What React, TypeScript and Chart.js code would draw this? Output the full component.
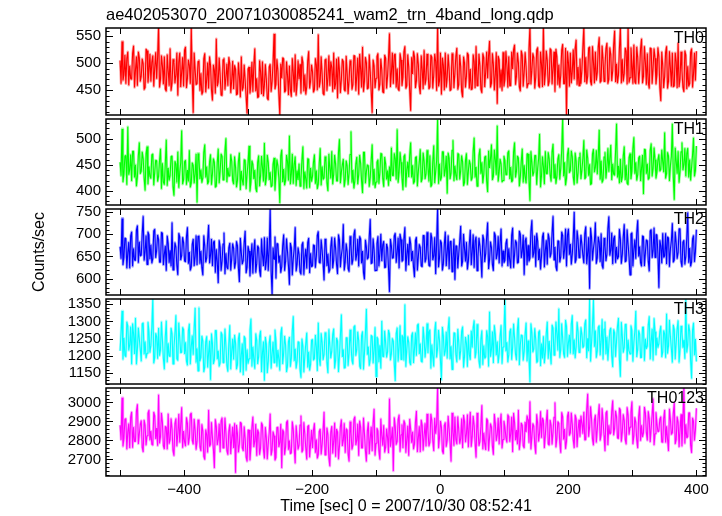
import React, { useEffect, useRef } from "react";
import { Chart, registerables } from "chart.js";
Chart.register(...registerables);

const TITLE = "ae402053070_20071030085241_wam2_trn_4band_long.qdp";
const X_LABEL = "Time [sec] 0 = 2007/10/30 08:52:41";
const Y_LABEL = "Counts/sec";

const T_START = -500;
const T_END = 400;
const X_MIN = -522;
const X_MAX = 415;
const X_TICK_LABELS = [-400, -200, 0, 200, 400];
const X_FRAME_TICKS = [-500, -400, -300, -200, -100, 0, 100, 200, 300, 400];

const TH0 = [
  505,462, 540,468, 478,515, 462,509, 521,459, 495,471, 470,518, 532,455, 488,512, 458,521, 510,466, 476,508, 499,451, 455,526, 523,464, 484,517, 466,502, 514,457, 492,520, 471,511,
  568,455, 470,514, 495,461, 512,452, 448,516, 486,458, 527,449, 463,507, 501,463, 478,519, 440,502, 519,456, 484,511, 457,524, 530,454, 472,506, 496,462, 566,470, 408,519, 488,460,
  462,503, 505,449, 481,442, 447,508, 518,446, 470,501, 453,512, 496,450, 431,497, 487,444, 545,457, 465,510, 478,441, 440,506, 509,451, 474,499, 458,511, 499,445, 468,504, 452,496,
  489,441, 443,501, 476,437, 512,449, 455,497, 468,438, 407,489, 493,444, 461,502, 447,496, 527,448, 472,436, 438,505, 484,443, 503,439, 459,498, 470,435, 432,493, 498,447, 466,500,
  554,452, 461,507, 486,443, 404,499, 472,510, 508,446, 449,503, 477,441, 495,451, 438,509, 483,447, 516,440, 462,505, 470,498, 444,512, 501,448, 479,442, 456,504, 522,453, 467,497,
  484,446, 451,509, 497,450, 553,455, 466,512, 479,444, 441,506, 508,449, 473,514, 458,503, 492,447, 519,452, 462,508, 435,511, 487,445, 470,507, 503,451, 448,513, 481,443, 469,505,
  496,451, 460,514, 513,449, 478,510, 442,517, 489,455, 530,447, 467,511, 501,452, 454,516, 484,449, 408,506, 495,454, 472,512, 518,450, 461,508, 487,447, 445,515, 509,453, 476,510,
  555,456, 483,519, 462,515, 517,455, 490,452, 449,518, 506,458, 474,521, 531,453, 458,516, 493,450, 412,511, 480,522, 512,454, 467,518, 498,457, 443,514, 488,452, 524,460, 471,517,
  490,452, 456,515, 511,453, 478,517, 503,449, 570,457, 467,519, 442,510, 496,450, 519,455, 473,516, 488,449, 451,518, 507,454, 482,513, 528,451, 460,515, 494,448, 437,512, 500,455,
  476,519, 515,453, 489,451, 452,516, 503,454, 531,458, 468,517, 495,452, 445,518, 510,456, 484,521, 472,514, 541,455, 463,518, 498,450, 479,520, 425,513, 506,455, 488,449, 520,457,
  470,522, 497,455, 512,458, 458,521, 489,525, 534,460, 476,519, 501,456, 448,523, 515,457, 483,520, 493,454, 462,526, 568,461, 487,518, 510,453, 474,524, 529,458, 455,521, 498,456,
  569,459, 481,523, 505,458, 466,527, 524,461, 490,521, 447,526, 512,460, 497,455, 478,524, 535,462, 462,528, 402,522, 501,457, 519,463, 484,525, 470,527, 543,460, 493,458, 508,462,
  488,529, 567,465, 511,462, 476,528, 530,466, 459,531, 502,463, 521,468, 483,530, 548,464, 467,532, 505,466, 494,527, 537,462, 470,529, 516,467, 486,533, 560,465, 499,463, 478,528,
  566,463, 507,466, 481,528, 522,461, 568,464, 473,529, 499,462, 534,465, 462,530, 510,462, 488,527, 545,463, 476,531, 501,460, 518,464, 453,528, 527,462, 492,527, 509,461, 480,529,
  512,455, 430,521, 496,454, 475,520, 531,453, 466,522, 490,457, 519,456, 458,519, 503,454, 537,456, 471,521, 486,455, 447,523, 515,452, 494,457, 462,520, 527,455, 480,519, 468,522,
];

const TH1 = [
  455,429, 519,417, 432,467, 468,412, 523,431, 441,470, 419,476, 476,426, 450,409, 427,468, 493,433, 438,475, 462,425, 401,471, 485,413, 447,428, 424,469, 471,411, 436,459, 458,418,
  428,459, 481,404, 453,417, 412,452, 498,410, 444,420, 430,466, 467,408, 391,457, 452,416, 475,406, 436,454, 516,413, 421,456, 459,412, 440,418, 478,407, 415,454, 449,415, 433,471,
  378,472, 462,423, 441,416, 425,474, 489,426, 447,413, 418,456, 470,412, 433,462, 455,407, 409,454, 481,415, 438,471, 466,421, 422,476, 501,417, 444,428, 429,470, 457,420, 413,466,
  446,407, 420,457, 473,402, 438,421, 411,460, 459,404, 432,454, 486,399, 417,458, 451,423, 440,405, 398,455, 468,409, 429,467, 445,418, 492,411, 424,469, 455,421, 436,408, 410,451,
  463,401, 431,460, 448,425, 377,467, 479,417, 442,411, 420,469, 457,420, 506,413, 433,471, 414,451, 466,410, 439,421, 452,409, 423,459, 485,404, 437,423, 405,462, 461,406, 444,418,
  428,455, 470,414, 439,404, 413,452, 482,411, 447,422, 425,466, 458,416, 400,471, 443,424, 476,413, 432,469, 451,419, 419,474, 499,415, 436,450, 461,408, 422,458, 448,412, 434,470,
  514,416, 440,405, 419,452, 465,413, 431,469, 453,419, 396,474, 474,415, 437,450, 448,408, 426,458, 489,412, 442,406, 417,455, 460,414, 435,472, 471,424, 408,465, 452,422, 439,410,
  447,419, 483,430, 429,472, 462,422, 518,416, 436,474, 455,425, 402,466, 470,408, 441,456, 427,469, 493,426, 449,414, 418,464, 466,409, 438,456, 480,417, 423,473, 457,423, 433,478,
  445,418, 468,408, 412,456, 487,415, 437,458, 536,414, 452,420, 426,475, 475,428, 441,467, 395,473, 463,423, 434,478, 497,419, 448,430, 421,472, 470,422, 439,468, 456,410, 416,459,
  472,412, 438,459, 451,420, 425,476, 502,426, 446,409, 419,468, 481,433, 455,415, 432,465, 467,419, 398,477, 444,462, 489,421, 428,479, 460,431, 525,418, 437,461, 452,417, 420,467,
  458,431, 431,473, 477,423, 446,417, 420,475, 493,426, 438,467, 463,409, 427,457, 481,416, 449,427, 415,471, 471,421, 381,476, 455,429, 436,468, 468,412, 442,462, 509,407, 429,466,
  447,413, 476,433, 433,474, 462,431, 418,475, 490,425, 451,414, 428,461, 470,422, 443,478, 539,428, 455,411, 424,470, 482,435, 439,477, 466,427, 412,473, 458,415, 435,464, 473,423,
  440,462, 497,423, 426,479, 463,429, 451,412, 414,471, 480,436, 445,478, 432,468, 517,422, 458,416, 421,465, 474,424, 446,482, 437,462, 488,421, 452,432, 430,476, 529,426, 448,415,
  461,417, 427,467, 485,421, 449,415, 412,464, 472,423, 438,481, 503,433, 455,420, 431,463, 467,419, 444,469, 394,480, 479,433, 452,422, 425,478, 491,428, 443,483, 460,424, 436,459,
  470,438, 441,479, 456,436, 512,424, 433,474, 467,419, 449,466, 529,427, 383,483, 458,433, 476,416, 437,475, 493,440, 451,482, 428,472, 482,426, 460,420, 445,469, 502,428, 439,486,
];

const TH2 = [
  672,645, 735,631, 648,691, 690,624, 659,682, 624,696, 705,628, 668,642, 641,709, 719,636, 683,651, 653,701, 740,641, 661,697, 632,705, 698,644, 676,635, 645,707, 711,647, 664,698,
  688,637, 637,704, 702,631, 655,674, 618,696, 679,636, 664,628, 726,620, 643,681, 671,630, 609,702, 694,642, 652,693, 681,640, 638,694, 715,634, 660,619, 627,677, 689,629, 650,697,
  631,695, 696,634, 662,625, 608,697, 674,637, 647,688, 720,635, 653,689, 629,681, 685,614, 666,638, 591,686, 671,618, 640,678, 703,611, 657,626, 622,669, 680,619, 645,679, 668,623,
  636,684, 674,624, 593,691, 659,633, 641,681, 707,613, 626,673, 662,606, 648,679, 612,664, 688,614, 634,674, 669,618, 605,690, 654,629, 693,620, 639,692, 618,668, 757,617, 565,670,
  644,694, 601,679, 678,636, 652,614, 627,674, 699,618, 639,690, 661,629, 587,680, 670,608, 646,668, 715,617, 633,670, 655,616, 610,676, 682,609, 648,667, 623,681, 691,613, 657,627,
  629,676, 674,625, 650,697, 706,637, 635,688, 664,635, 597,689, 681,629, 656,614, 620,672, 693,624, 642,692, 668,632, 611,699, 687,626, 653,669, 722,619, 638,679, 661,623, 616,695,
  676,632, 643,699, 710,641, 654,689, 628,695, 689,635, 662,614, 599,687, 671,644, 648,694, 733,634, 636,690, 665,618, 619,679, 695,628, 657,700, 640,676, 684,625, 626,678, 669,624,
  571,689, 673,646, 647,696, 702,636, 659,692, 624,700, 688,639, 642,690, 715,618, 655,678, 631,693, 679,640, 662,626, 604,686, 693,619, 650,677, 670,629, 627,697, 697,637, 645,704,
  664,630, 628,702, 691,642, 652,693, 611,680, 757,626, 647,686, 680,619, 633,677, 705,629, 659,697, 622,683, 684,616, 646,689, 598,674, 673,624, 656,684, 718,628, 639,700, 667,639,
  682,621, 640,679, 709,631, 661,699, 625,685, 694,618, 650,691, 673,648, 603,698, 688,638, 657,694, 726,622, 643,683, 670,632, 618,704, 697,644, 655,695, 635,682, 712,628, 663,636,
  641,679, 689,629, 668,641, 624,697, 714,625, 655,686, 681,635, 637,707, 700,647, 662,698, 609,685, 692,631, 675,639, 646,706, 731,648, 658,696, 627,702, 685,642, 667,621, 650,694,
  703,626, 664,686, 632,701, 690,648, 657,702, 740,642, 671,627, 618,685, 684,637, 649,705, 697,645, 665,712, 628,697, 712,654, 678,632, 655,692, 749,636, 643,708, 688,647, 662,698,
  676,653, 635,701, 717,633, 659,693, 578,714, 693,641, 668,684, 726,634, 647,694, 682,638, 701,630, 623,691, 674,640, 655,712, 739,652, 664,703, 633,690, 696,636, 671,644, 650,711,
  689,634, 654,694, 722,638, 640,710, 677,649, 609,700, 703,628, 666,688, 645,703, 731,650, 672,636, 628,696, 694,629, 659,687, 685,639, 617,707, 710,647, 663,714, 648,699, 698,656,
  580,686, 674,635, 702,648, 651,702, 633,694, 691,627, 667,685, 724,637, 642,705, 680,645, 659,712, 712,639, 627,682, 686,632, 650,692, 748,636, 669,628, 638,689, 697,638, 661,710,
];

const TH3 = [
  1215,1269, 1330,1190, 1252,1202, 1198,1299, 1287,1216, 1233,1285, 1176,1294, 1264,1206, 1310,1176, 1221,1282, 1249,1219, 1185,1293, 1296,1205, 1242,1194, 1208,1298, 1271,1210, 1230,1283, 1365,1179, 1195,1266, 1256,1192,
  1281,1201, 1218,1299, 1246,1193, 1162,1256, 1302,1182, 1237,1200, 1199,1281, 1265,1177, 1224,1265, 1318,1192, 1187,1296, 1252,1209, 1211,1283, 1276,1206, 1240,1185, 1173,1273, 1293,1176, 1228,1259, 1204,1280, 1339,1181,
  1222,1157, 1340,1185, 1196,1258, 1243,1154, 1168,1241, 1257,1167, 1209,1244, 1131,1265, 1236,1177, 1188,1274, 1274,1191, 1215,1170, 1180,1269, 1262,1181, 1201,1279, 1229,1173, 1155,1236, 1289,1162, 1213,1250, 1190,1261,
  1238,1162, 1174,1250, 1266,1153, 1203,1236, 1145,1257, 1251,1158, 1219,1178, 1192,1276, 1308,1170, 1227,1191, 1163,1265, 1246,1177, 1198,1258, 1273,1154, 1210,1242, 1129,1255, 1235,1151, 1184,1238, 1259,1164, 1206,1241,
  1181,1276, 1244,1170, 1217,1191, 1158,1265, 1283,1177, 1209,1258, 1232,1154, 1170,1242, 1255,1169, 1194,1273, 1315,1186, 1221,1164, 1186,1241, 1240,1162, 1137,1250, 1228,1153, 1199,1236, 1267,1167, 1212,1158, 1176,1246,
  1248,1188, 1193,1261, 1226,1157, 1296,1192, 1172,1266, 1239,1189, 1205,1268, 1262,1180, 1151,1277, 1231,1194, 1214,1263, 1279,1164, 1188,1252, 1244,1154, 1202,1260, 1320,1197, 1219,1165, 1166,1253, 1253,1172, 1208,1276,
  1233,1187, 1176,1284, 1288,1201, 1219,1270, 1245,1171, 1163,1259, 1271,1161, 1209,1267, 1336,1204, 1227,1172, 1190,1260, 1257,1179, 1216,1283, 1140,1255, 1249,1182, 1231,1164, 1301,1199, 1198,1273, 1238,1196, 1212,1275,
  1264,1188, 1207,1251, 1243,1177, 1128,1265, 1282,1184, 1226,1288, 1190,1260, 1255,1187, 1349,1169, 1218,1256, 1239,1182, 1174,1259, 1268,1180, 1221,1268, 1201,1289, 1293,1206, 1236,1185, 1182,1284, 1250,1196, 1227,1294,
  1209,1268, 1276,1164, 1233,1199, 1170,1273, 1298,1196, 1222,1275, 1245,1187, 1131,1284, 1259,1201, 1215,1270, 1193,1279, 1312,1191, 1228,1161, 1204,1267, 1266,1204, 1182,1278, 1240,1190, 1217,1271, 1285,1167, 1199,1255,
  1237,1169, 1261,1204, 1189,1273, 1225,1282, 1303,1194, 1211,1292, 1248,1186, 1166,1249, 1274,1175, 1230,1193, 1197,1274, 1256,1170, 1328,1198, 1219,1271, 1180,1289, 1263,1202, 1242,1180, 1205,1257, 1289,1178, 1226,1266,
  1366,1214, 1240,1182, 1204,1270, 1279,1189, 1226,1293, 1252,1205, 1188,1278, 1309,1174, 1233,1261, 1259,1187, 1213,1264, 1296,1185, 1245,1197, 1124,1294, 1268,1211, 1221,1280, 1248,1181, 1185,1269, 1274,1171, 1236,1193,
  1257,1179, 1211,1266, 1299,1192, 1243,1211, 1176,1290, 1281,1202, 1230,1299, 1264,1216, 1337,1195, 1218,1294, 1252,1206, 1195,1304, 1286,1198, 1239,1261, 1207,1293, 1318,1205, 1248,1194, 1226,1298, 1271,1210, 1214,1283,
  1262,1224, 1229,1293, 1305,1194, 1251,1214, 1365,1184, 1237,1290, 1362,1227, 1274,1195, 1215,1283, 1288,1202, 1243,1306, 1190,1278, 1299,1205, 1256,1187, 1232,1274, 1281,1200, 1168,1277, 1267,1198, 1245,1286, 1310,1189,
  1140,1298, 1258,1210, 1225,1291, 1292,1187, 1247,1215, 1206,1288, 1274,1184, 1239,1271, 1330,1197, 1218,1274, 1263,1195, 1196,1283, 1284,1186, 1250,1221, 1229,1290, 1315,1191, 1242,1279, 1187,1309, 1270,1203, 1253,1224,
  1236,1271, 1287,1197, 1211,1274, 1264,1195, 1322,1207, 1229,1304, 1256,1221, 1181,1290, 1277,1191, 1240,1279, 1303,1181, 1218,1287, 1268,1224, 1247,1192, 1364,1210, 1233,1291, 1272,1187, 1135,1275, 1296,1202, 1249,1184,
];

const TH0123 = [
  2880,2803, 3025,2769, 2810,2912, 2915,2754, 2845,2889, 2760,2923, 2950,2762, 2870,2795, 2795,2954, 2990,2782, 2835,2884, 2905,2764, 2740,2907, 2880,2775, 2825,2944, 2960,2801, 2850,2780, 2775,2949, 2930,2808, 2865,2772,
  3040,2785, 2820,2944, 2895,2772, 2755,2874, 2870,2754, 2940,2783, 2805,2915, 2860,2746, 2720,2889, 2915,2770, 2835,2939, 2790,2882, 2975,2762, 2850,2793, 2770,2921, 2890,2778, 2815,2936, 2945,2801, 2780,2913, 2855,2752,
  2795,2909, 2900,2766, 2745,2885, 2850,2716, 2700,2857, 2830,2737, 2960,2768, 2780,2896, 2815,2753, 2655,2911, 2875,2776, 2805,2888, 2740,2903, 2920,2760, 2790,2919, 2840,2747, 2725,2849, 2885,2729, 2810,2872, 2760,2890,
  2630,2881, 2835,2738, 2780,2896, 2890,2761, 2745,2873, 2810,2712, 2690,2855, 2855,2696, 2770,2868, 2925,2766, 2795,2886, 2720,2857, 2840,2725, 2760,2894, 2880,2751, 2705,2870, 2815,2701, 2785,2842, 2940,2722, 2750,2847,
  2825,2696, 2710,2868, 2870,2766, 2790,2886, 2655,2857, 2845,2725, 2765,2894, 2905,2751, 2800,2730, 2735,2899, 2860,2758, 2680,2878, 2815,2753, 2775,2881, 2930,2738, 2750,2896, 2835,2761, 2700,2873, 2880,2712, 2785,2855,
  2760,2854, 2890,2735, 2805,2706, 2725,2847, 2860,2727, 2780,2852, 2950,2724, 2740,2867, 2830,2709, 2665,2844, 2875,2732, 2795,2893, 2715,2860, 2845,2701, 2770,2873, 2910,2771, 2800,2891, 2735,2862, 2855,2730, 2690,2899,
  2840,2753, 2775,2911, 2925,2776, 2800,2888, 2720,2903, 2870,2760, 2760,2919, 2835,2747, 2690,2849, 2895,2729, 2810,2872, 2745,2890, 2965,2721, 2785,2864, 2850,2745, 2700,2914, 2825,2773, 2880,2737, 2765,2862, 2815,2734,
  3020,2767, 2810,2869, 2640,2921, 2875,2778, 2795,2910, 2935,2741, 2830,2884, 2760,2905, 2890,2736, 2805,2877, 2720,2913, 2860,2788, 2845,2754, 2780,2897, 2955,2739, 2815,2874, 2740,2908, 2880,2747, 2825,2890, 2770,2939,
  2850,2770, 2790,2939, 2905,2798, 2745,2918, 2835,2887, 3080,2759, 2815,2902, 2870,2744, 2730,2879, 2895,2767, 2800,2928, 2860,2785, 2690,2944, 2845,2772, 2925,2806, 2780,2926, 2855,2783, 2810,2915, 2760,2934, 2900,2791,
  2835,2936, 2765,2879, 2950,2767, 2820,2928, 2880,2785, 2710,2944, 2860,2772, 2795,2874, 2985,2754, 2840,2783, 2750,2915, 2905,2746, 2815,2889, 2870,2770, 2725,2939, 2890,2798, 2830,2918, 2780,2887, 2940,2759, 2805,2902,
  2870,2816, 2790,2936, 2925,2793, 2835,2925, 2740,2944, 2895,2801, 2855,2780, 2960,2751, 2800,2892, 2880,2772, 2760,2897, 2845,2931, 2910,2788, 3005,2754, 2820,2889, 2875,2777, 2730,2938, 2890,2795, 2840,2954, 2815,2918,
  2905,2761, 2830,2902, 2960,2782, 2775,2907, 2880,2779, 2845,2922, 3000,2764, 2810,2899, 2890,2787, 2735,2948, 2925,2805, 2860,2756, 2795,2928, 2950,2826, 2840,2946, 2885,2803, 2760,2935, 2915,2766, 2855,2909, 2820,2930,
  2890,2836, 2950,2802, 2805,2963, 3045,2820, 2870,2979, 2915,2807, 2775,2909, 2935,2789, 2860,2932, 2990,2800, 2830,2969, 2900,2826, 2745,2945, 2955,2776, 2880,2833, 2840,2953, 3010,2828, 2865,2956, 2925,2813, 2810,2971,
  2960,2794, 2845,2937, 2905,2805, 2780,2974, 2935,2831, 2870,2950, 3005,2781, 2825,2922, 2895,2802, 2760,2927, 2980,2799, 2880,2818, 2840,2976, 2945,2841, 2800,2953, 2915,2792, 2865,2935, 3020,2776, 2835,2948, 2890,2846,
  2850,2912, 2925,2792, 2790,2917, 2960,2789, 2875,2808, 2745,2966, 2910,2831, 2840,2943, 3000,2782, 2805,2925, 2895,2766, 2860,2938, 2770,2904, 3080,2784, 2885,2813, 2820,2945, 2945,2776, 2735,2919, 2900,2800, 2855,2969,
];

const PANEL_NAMES = ["TH0", "TH1", "TH2", "TH3", "TH0123"];
const PANEL_VALUES = [TH0, TH1, TH2, TH3, TH0123];
const PANEL_COLORS = ["255,0,0", "0,255,0", "0,0,255", "0,255,255", "255,0,255"];
const Y_MIN = [404, 373, 564, 1119, 2613];
const Y_MAX = [565, 538, 756, 1365, 3076];
const Y_TICKS = [
  [450, 500, 550],
  [400, 450, 500],
  [600, 650, 700, 750],
  [1150, 1200, 1250, 1300, 1350],
  [2700, 2800, 2900, 3000],
];
const Y_MAJOR = [50, 50, 50, 50, 100];
const Y_MINOR = [10, 10, 10, 10, 20];

const FONT = "'Liberation Sans', Arial, Helvetica, sans-serif";
const W = 722;
const H = 516;
const FRAME_LEFT = 106;
const FRAME_RIGHT = 706;
const EDGES = [28, 117, 207, 297, 386, 476];
const PAD = 12;

function fmtMinus(v: number): string {
  return v < 0 ? "\u2212" + Math.abs(v) : String(v);
}

function Panel({ index }: { index: number }) {
  const ref = useRef<HTMLCanvasElement>(null);
  const last = index === PANEL_NAMES.length - 1;
  const top = index === 0 ? 0 : EDGES[index] - PAD;
  const bottom = last ? H : EDGES[index + 1] + PAD;
  const h = bottom - top;

  useEffect(() => {
    const canvas = ref.current;
    if (!canvas) return;
    const rgb = PANEL_COLORS[index];
    const vals = PANEL_VALUES[index];
    const step = (T_END - T_START) / (vals.length - 1);
    const points = vals.map((v, i) => ({ x: T_START + i * step, y: v }));
    const yMin = Y_MIN[index];
    const yMax = Y_MAX[index];

    const framePlugin = {
      id: "qdpFrame",
      afterDatasetsDraw(chart: any) {
        const { ctx, chartArea: a, scales } = chart;
        ctx.save();
        ctx.strokeStyle = "#000";
        ctx.lineWidth = 1;
        ctx.beginPath();
        for (const v of X_FRAME_TICKS) {
          const x = Math.round(scales.x.getPixelForValue(v)) + 0.5;
          ctx.moveTo(x, a.top);
          ctx.lineTo(x, a.top + 6);
          ctx.moveTo(x, a.bottom);
          ctx.lineTo(x, a.bottom - 6);
        }
        const mstep = Y_MINOR[index];
        for (let v = Math.ceil(yMin / mstep) * mstep; v <= yMax; v += mstep) {
          const y = Math.round(scales.y.getPixelForValue(v)) + 0.5;
          const major = v % Y_MAJOR[index] === 0;
          const len = major ? 7 : 3.5;
          ctx.moveTo(a.left, y);
          ctx.lineTo(a.left + len, y);
          ctx.moveTo(a.right, y);
          ctx.lineTo(a.right - len, y);
        }
        ctx.stroke();
        ctx.lineWidth = 1.5;
        ctx.strokeRect(a.left, a.top, a.right - a.left, a.bottom - a.top);
        ctx.fillStyle = "#000";
        ctx.font = `16px ${FONT}`;
        ctx.textAlign = "right";
        ctx.textBaseline = "alphabetic";
        ctx.fillText(PANEL_NAMES[index], a.right - 2, a.top + 15);
        if (index === 0) {
          ctx.font = `16.5px ${FONT}`;
          ctx.textAlign = "left";
          ctx.fillText(TITLE, a.left, 20);
        }
        ctx.restore();
      },
    };

    const chart = new Chart(canvas, {
      type: "line",
      data: {
        datasets: [
          {
            data: points,
            borderColor: `rgba(${rgb},0.35)`,
            borderWidth: 2.6,
            borderJoinStyle: "round",
            pointRadius: 0,
            tension: 0,
            clip: 0,
          },
          {
            data: points,
            borderColor: `rgb(${rgb})`,
            borderWidth: 1.1,
            borderJoinStyle: "bevel",
            pointRadius: 0,
            tension: 0,
            clip: 0,
          },
        ],
      },
      options: {
        responsive: false,
        animation: false,
        devicePixelRatio: 1,
        events: [],
        layout: {
          padding: {
            left: 0,
            right: W - FRAME_RIGHT,
            top: EDGES[index] - top,
            bottom: last ? 0 : bottom - EDGES[index + 1],
          },
        },
        plugins: {
          legend: { display: false },
          tooltip: { enabled: false },
          title: { display: false },
        },
        scales: {
          x: {
            type: "linear",
            min: X_MIN,
            max: X_MAX,
            display: last,
            position: "bottom",
            afterBuildTicks: (s: any) => {
              s.ticks = X_TICK_LABELS.map((v) => ({ value: v }));
            },
            afterFit: (s: any) => {
              s.height = last ? H - EDGES[EDGES.length - 1] : 0;
            },
            grid: { display: false, drawTicks: false },
            border: { display: false },
            ticks: {
              color: "#000",
              font: { family: FONT, size: 15 },
              padding: 5,
              autoSkip: false,
              maxRotation: 0,
              callback: (v: any) => fmtMinus(Number(v)),
            },
            title: {
              display: true,
              text: X_LABEL,
              color: "#000",
              font: { family: FONT, size: 16 },
              padding: { top: 0, bottom: 0 },
            },
          },
          y: {
            type: "linear",
            min: yMin,
            max: yMax,
            position: "left",
            afterBuildTicks: (s: any) => {
              s.ticks = Y_TICKS[index].map((v) => ({ value: v }));
            },
            afterFit: (s: any) => {
              s.width = FRAME_LEFT;
            },
            grid: { display: false, drawTicks: false },
            border: { display: false },
            ticks: {
              color: "#000",
              font: { family: FONT, size: 15 },
              padding: 5,
              autoSkip: false,
              callback: (v: any) => String(v),
            },
            title: {
              display: index === 2,
              text: Y_LABEL,
              color: "#000",
              font: { family: FONT, size: 16 },
              padding: { top: 30, bottom: 0 },
            },
          },
        },
      },
      plugins: [framePlugin],
    } as any);
    return () => chart.destroy();
  }, [index]);

  return (
    <canvas
      ref={ref}
      width={W}
      height={h}
      style={{ position: "absolute", left: 0, top, width: W, height: h }}
    />
  );
}

export default function App() {
  return (
    <div
      style={{
        position: "fixed",
        left: 0,
        top: 0,
        width: W,
        height: H,
        background: "#fff",
        overflow: "hidden",
      }}
    >
      {PANEL_NAMES.map((_, i) => (
        <Panel key={i} index={i} />
      ))}
    </div>
  );
}
